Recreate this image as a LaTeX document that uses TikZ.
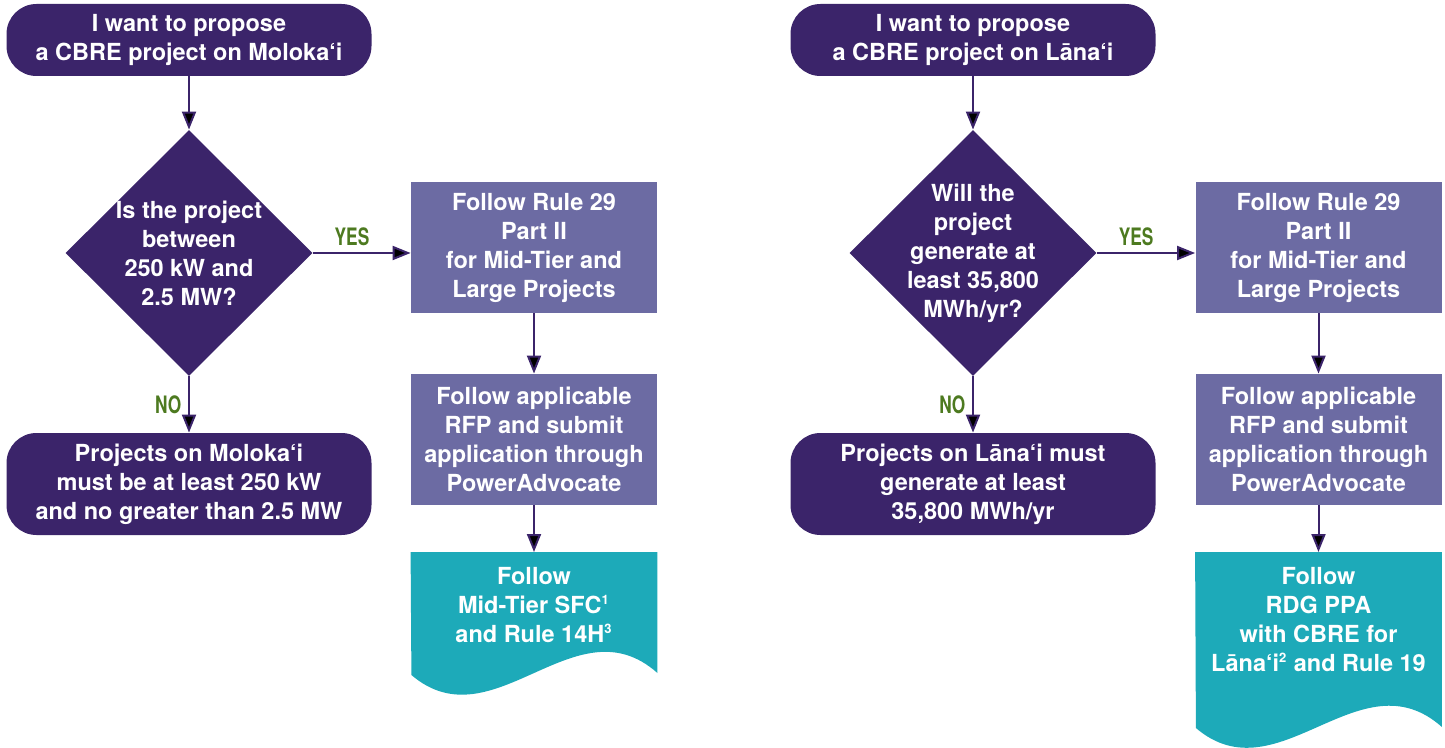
\documentclass[tikz,border=0pt]{standalone}
\usepackage{fontspec}
\setmainfont{TeX Gyre Heros}
\newfontfamily\choicefont[FakeStretch=0.72]{TeX Gyre Heros}
\usetikzlibrary{arrows.meta,quotes,shapes.geometric,backgrounds}

\definecolor{darkpurple}{RGB}{59,36,106}
\definecolor{boxpurple}{RGB}{108,107,163}
\definecolor{docteal}{RGB}{29,170,185}
\definecolor{choicegreen}{RGB}{77,122,32}

\newcommand\noteref[1]{\textsuperscript{\fontsize{6.5}{6.5}\selectfont #1}}

\begin{document}
\begin{tikzpicture}[
  x=0.5pt, y=-0.5pt,
  font=\fontsize{11.75}{14.5}\selectfont\bfseries,
  tnode/.style={fill=darkpurple,text=white,rounded corners=15pt,minimum width=182.5pt,align=center,inner sep=0pt},
  qnode/.style={diamond,fill=darkpurple,text=white,minimum width=123.5pt,minimum height=123pt,align=center,inner sep=-10pt},
  bnode/.style={fill=boxpurple,text=white,minimum width=123pt,minimum height=65.5pt,align=center,inner sep=0pt},
  dnode/.style={anchor=north,text=white,minimum width=123pt,align=center,inner xsep=0pt,inner ysep=7.5pt},
  arr/.style={-{Triangle[length=9pt,width=7pt]},draw=darkpurple,line width=1pt},
  every edge quotes/.style={auto,font=\choicefont\fontsize{12}{14}\selectfont\bfseries,text=choicegreen}
]
  \useasboundingbox (0,0) rectangle (1445,748);

  % start terminals
  \node[tnode,minimum height=36pt] (t1) at (189,40) {I want to propose\\a CBRE project on Moloka‘i};
  \node[tnode,minimum height=36pt] (t2) at (973,40) {I want to propose\\a CBRE project on Lāna‘i};

  % decisions
  \node[qnode] (q1) at (189,253) {Is the project\\between\\250 kW and\\2.5 MW?};
  \node[qnode] (q2) at (973,253) {Will the\\project\\generate at\\least 35,800\\MWh/yr?};

  % end terminals
  \node[tnode,minimum height=51pt] (n1) at (189,484) {Projects on Moloka‘i\\must be at least 250 kW\\and no greater than 2.5 MW};
  \node[tnode,minimum height=51pt] (n2) at (973,484) {Projects on Lāna‘i must\\generate at least\\35,800 MWh/yr};

  % rule boxes
  \node[bnode] (r1) at (534,247.5) {Follow Rule 29\\Part II\\for Mid-Tier and\\Large Projects};
  \node[bnode] (s1) at (534,439.5) {Follow applicable\\RFP and submit\\application through\\PowerAdvocate};
  \node[bnode] (r2) at (1318.5,247.5) {Follow Rule 29\\Part II\\for Mid-Tier and\\Large Projects};
  \node[bnode] (s2) at (1318.5,439.5) {Follow applicable\\RFP and submit\\application through\\PowerAdvocate};

  % documents
  \node[dnode] (d1) at (534,552) {Follow\\Mid-Tier SFC\noteref{1}\\and Rule 14H\noteref{3}};
  \node[dnode] (d2) at (1318.5,552) {Follow\\RDG PPA\\with CBRE for\\Lāna‘i\noteref{2} and Rule 19};

  \begin{scope}[on background layer]
    \fill[docteal] (d1.north west) -- (d1.north east) -- ++(0,121)
      .. controls +(-82,-73) and +(82,70) .. ++(-246,2) -- cycle;
    \fill[docteal] (d2.north west) -- (d2.north east) -- ++(0,175)
      .. controls +(-82,-73) and +(82,70) .. ++(-246,1) -- cycle;
  \end{scope}

  % Moloka'i edges
  \draw[arr] (t1) edge (q1);
  \draw[arr] (q1) edge["YES" pos=0.4] (q1 -| r1.west);
  \draw[arr] (q1) edge["NO"'] (n1);
  \draw[arr] (r1) edge (s1);
  \draw[arr] (s1) edge (d1);

  % Lana'i edges
  \draw[arr] (t2) edge (q2);
  \draw[arr] (q2) edge["YES" pos=0.4] (q2 -| r2.west);
  \draw[arr] (q2) edge["NO"'] (n2);
  \draw[arr] (r2) edge (s2);
  \draw[arr] (s2) edge (d2);

\end{tikzpicture}
\end{document}
